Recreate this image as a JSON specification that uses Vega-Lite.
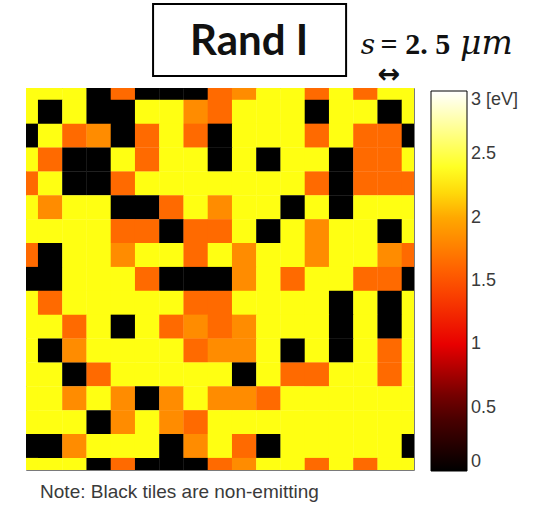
{
  "$schema": "https://vega.github.io/schema/vega-lite/v6.json",
  "autosize": {"type": "none"},
  "width": 388,
  "height": 382,
  "padding": {"left": 26, "top": 88, "right": 124, "bottom": 36},
  "background": "white",
  "view": {"stroke": "#7a7a7a", "strokeWidth": 1},
  "data": {"values": [
    {"r":0,"c":0,"v":2.35},{"r":0,"c":1,"v":2.35},{"r":0,"c":2,"v":2.35},{"r":0,"c":3,"v":0},{"r":0,"c":4,"v":1.64},{"r":0,"c":5,"v":0},{"r":0,"c":6,"v":0},{"r":0,"c":7,"v":0},{"r":0,"c":8,"v":1.64},{"r":0,"c":9,"v":1.84},{"r":0,"c":10,"v":2.35},{"r":0,"c":11,"v":2.35},{"r":0,"c":12,"v":1.64},{"r":0,"c":13,"v":2.35},{"r":0,"c":14,"v":1.64},{"r":0,"c":15,"v":2.35},{"r":0,"c":16,"v":2.35},
    {"r":1,"c":0,"v":2.35},{"r":1,"c":1,"v":0},{"r":1,"c":2,"v":2.35},{"r":1,"c":3,"v":0},{"r":1,"c":4,"v":0},{"r":1,"c":5,"v":2.35},{"r":1,"c":6,"v":2.35},{"r":1,"c":7,"v":1.84},{"r":1,"c":8,"v":1.64},{"r":1,"c":9,"v":2.35},{"r":1,"c":10,"v":2.35},{"r":1,"c":11,"v":2.35},{"r":1,"c":12,"v":0},{"r":1,"c":13,"v":2.35},{"r":1,"c":14,"v":2.35},{"r":1,"c":15,"v":0},{"r":1,"c":16,"v":2.35},
    {"r":2,"c":0,"v":0},{"r":2,"c":1,"v":2.35},{"r":2,"c":2,"v":1.64},{"r":2,"c":3,"v":1.84},{"r":2,"c":4,"v":0},{"r":2,"c":5,"v":1.64},{"r":2,"c":6,"v":2.35},{"r":2,"c":7,"v":1.64},{"r":2,"c":8,"v":0},{"r":2,"c":9,"v":2.35},{"r":2,"c":10,"v":2.35},{"r":2,"c":11,"v":2.35},{"r":2,"c":12,"v":1.64},{"r":2,"c":13,"v":2.35},{"r":2,"c":14,"v":1.64},{"r":2,"c":15,"v":1.64},{"r":2,"c":16,"v":0},
    {"r":3,"c":0,"v":2.35},{"r":3,"c":1,"v":1.64},{"r":3,"c":2,"v":0},{"r":3,"c":3,"v":0},{"r":3,"c":4,"v":2.35},{"r":3,"c":5,"v":1.64},{"r":3,"c":6,"v":2.35},{"r":3,"c":7,"v":2.35},{"r":3,"c":8,"v":0},{"r":3,"c":9,"v":2.35},{"r":3,"c":10,"v":0},{"r":3,"c":11,"v":2.35},{"r":3,"c":12,"v":2.35},{"r":3,"c":13,"v":0},{"r":3,"c":14,"v":1.64},{"r":3,"c":15,"v":1.64},{"r":3,"c":16,"v":2.35},
    {"r":4,"c":0,"v":1.64},{"r":4,"c":1,"v":2.35},{"r":4,"c":2,"v":0},{"r":4,"c":3,"v":0},{"r":4,"c":4,"v":1.64},{"r":4,"c":5,"v":2.35},{"r":4,"c":6,"v":2.35},{"r":4,"c":7,"v":2.35},{"r":4,"c":8,"v":2.35},{"r":4,"c":9,"v":2.35},{"r":4,"c":10,"v":2.35},{"r":4,"c":11,"v":2.35},{"r":4,"c":12,"v":1.64},{"r":4,"c":13,"v":0},{"r":4,"c":14,"v":1.64},{"r":4,"c":15,"v":1.64},{"r":4,"c":16,"v":1.64},
    {"r":5,"c":0,"v":2.35},{"r":5,"c":1,"v":1.84},{"r":5,"c":2,"v":2.35},{"r":5,"c":3,"v":2.35},{"r":5,"c":4,"v":0},{"r":5,"c":5,"v":0},{"r":5,"c":6,"v":1.64},{"r":5,"c":7,"v":2.35},{"r":5,"c":8,"v":1.84},{"r":5,"c":9,"v":2.35},{"r":5,"c":10,"v":2.35},{"r":5,"c":11,"v":0},{"r":5,"c":12,"v":2.35},{"r":5,"c":13,"v":0},{"r":5,"c":14,"v":2.35},{"r":5,"c":15,"v":2.35},{"r":5,"c":16,"v":2.35},
    {"r":6,"c":0,"v":2.35},{"r":6,"c":1,"v":2.35},{"r":6,"c":2,"v":2.35},{"r":6,"c":3,"v":2.35},{"r":6,"c":4,"v":1.64},{"r":6,"c":5,"v":1.64},{"r":6,"c":6,"v":0},{"r":6,"c":7,"v":1.64},{"r":6,"c":8,"v":1.64},{"r":6,"c":9,"v":2.35},{"r":6,"c":10,"v":0},{"r":6,"c":11,"v":2.35},{"r":6,"c":12,"v":1.84},{"r":6,"c":13,"v":2.35},{"r":6,"c":14,"v":2.35},{"r":6,"c":15,"v":0},{"r":6,"c":16,"v":2.35},
    {"r":7,"c":0,"v":1.64},{"r":7,"c":1,"v":0},{"r":7,"c":2,"v":2.35},{"r":7,"c":3,"v":2.35},{"r":7,"c":4,"v":1.84},{"r":7,"c":5,"v":2.35},{"r":7,"c":6,"v":2.35},{"r":7,"c":7,"v":1.64},{"r":7,"c":8,"v":2.35},{"r":7,"c":9,"v":1.84},{"r":7,"c":10,"v":2.35},{"r":7,"c":11,"v":2.35},{"r":7,"c":12,"v":1.84},{"r":7,"c":13,"v":2.35},{"r":7,"c":14,"v":2.35},{"r":7,"c":15,"v":1.84},{"r":7,"c":16,"v":1.64},
    {"r":8,"c":0,"v":0},{"r":8,"c":1,"v":0},{"r":8,"c":2,"v":2.35},{"r":8,"c":3,"v":2.35},{"r":8,"c":4,"v":2.35},{"r":8,"c":5,"v":1.64},{"r":8,"c":6,"v":0},{"r":8,"c":7,"v":0},{"r":8,"c":8,"v":0},{"r":8,"c":9,"v":1.84},{"r":8,"c":10,"v":2.35},{"r":8,"c":11,"v":1.64},{"r":8,"c":12,"v":2.35},{"r":8,"c":13,"v":2.35},{"r":8,"c":14,"v":1.64},{"r":8,"c":15,"v":1.64},{"r":8,"c":16,"v":0},
    {"r":9,"c":0,"v":2.35},{"r":9,"c":1,"v":1.64},{"r":9,"c":2,"v":2.35},{"r":9,"c":3,"v":2.35},{"r":9,"c":4,"v":2.35},{"r":9,"c":5,"v":2.35},{"r":9,"c":6,"v":2.35},{"r":9,"c":7,"v":1.64},{"r":9,"c":8,"v":1.64},{"r":9,"c":9,"v":2.35},{"r":9,"c":10,"v":2.35},{"r":9,"c":11,"v":2.35},{"r":9,"c":12,"v":2.35},{"r":9,"c":13,"v":0},{"r":9,"c":14,"v":2.35},{"r":9,"c":15,"v":0},{"r":9,"c":16,"v":2.35},
    {"r":10,"c":0,"v":2.35},{"r":10,"c":1,"v":2.35},{"r":10,"c":2,"v":1.64},{"r":10,"c":3,"v":2.35},{"r":10,"c":4,"v":0},{"r":10,"c":5,"v":2.35},{"r":10,"c":6,"v":1.64},{"r":10,"c":7,"v":1.84},{"r":10,"c":8,"v":1.64},{"r":10,"c":9,"v":1.84},{"r":10,"c":10,"v":2.35},{"r":10,"c":11,"v":2.35},{"r":10,"c":12,"v":2.35},{"r":10,"c":13,"v":0},{"r":10,"c":14,"v":2.35},{"r":10,"c":15,"v":0},{"r":10,"c":16,"v":2.35},
    {"r":11,"c":0,"v":2.35},{"r":11,"c":1,"v":0},{"r":11,"c":2,"v":1.84},{"r":11,"c":3,"v":2.35},{"r":11,"c":4,"v":2.35},{"r":11,"c":5,"v":2.35},{"r":11,"c":6,"v":2.35},{"r":11,"c":7,"v":1.64},{"r":11,"c":8,"v":1.84},{"r":11,"c":9,"v":1.84},{"r":11,"c":10,"v":2.35},{"r":11,"c":11,"v":0},{"r":11,"c":12,"v":2.35},{"r":11,"c":13,"v":0},{"r":11,"c":14,"v":2.35},{"r":11,"c":15,"v":1.64},{"r":11,"c":16,"v":2.35},
    {"r":12,"c":0,"v":2.35},{"r":12,"c":1,"v":2.35},{"r":12,"c":2,"v":0},{"r":12,"c":3,"v":1.64},{"r":12,"c":4,"v":2.35},{"r":12,"c":5,"v":2.35},{"r":12,"c":6,"v":2.35},{"r":12,"c":7,"v":2.35},{"r":12,"c":8,"v":2.35},{"r":12,"c":9,"v":0},{"r":12,"c":10,"v":2.35},{"r":12,"c":11,"v":1.64},{"r":12,"c":12,"v":1.64},{"r":12,"c":13,"v":2.35},{"r":12,"c":14,"v":2.35},{"r":12,"c":15,"v":1.64},{"r":12,"c":16,"v":2.35},
    {"r":13,"c":0,"v":2.35},{"r":13,"c":1,"v":2.35},{"r":13,"c":2,"v":1.84},{"r":13,"c":3,"v":2.35},{"r":13,"c":4,"v":1.84},{"r":13,"c":5,"v":0},{"r":13,"c":6,"v":1.84},{"r":13,"c":7,"v":2.35},{"r":13,"c":8,"v":1.84},{"r":13,"c":9,"v":1.84},{"r":13,"c":10,"v":1.64},{"r":13,"c":11,"v":2.35},{"r":13,"c":12,"v":2.35},{"r":13,"c":13,"v":2.35},{"r":13,"c":14,"v":2.35},{"r":13,"c":15,"v":2.35},{"r":13,"c":16,"v":2.35},
    {"r":14,"c":0,"v":2.35},{"r":14,"c":1,"v":2.35},{"r":14,"c":2,"v":2.35},{"r":14,"c":3,"v":0},{"r":14,"c":4,"v":1.84},{"r":14,"c":5,"v":2.35},{"r":14,"c":6,"v":1.84},{"r":14,"c":7,"v":1.64},{"r":14,"c":8,"v":2.35},{"r":14,"c":9,"v":2.35},{"r":14,"c":10,"v":2.35},{"r":14,"c":11,"v":2.35},{"r":14,"c":12,"v":2.35},{"r":14,"c":13,"v":2.35},{"r":14,"c":14,"v":2.35},{"r":14,"c":15,"v":2.35},{"r":14,"c":16,"v":2.35},
    {"r":15,"c":0,"v":0},{"r":15,"c":1,"v":0},{"r":15,"c":2,"v":1.84},{"r":15,"c":3,"v":2.35},{"r":15,"c":4,"v":2.35},{"r":15,"c":5,"v":2.35},{"r":15,"c":6,"v":0},{"r":15,"c":7,"v":1.84},{"r":15,"c":8,"v":2.35},{"r":15,"c":9,"v":1.64},{"r":15,"c":10,"v":0},{"r":15,"c":11,"v":2.35},{"r":15,"c":12,"v":2.35},{"r":15,"c":13,"v":2.35},{"r":15,"c":14,"v":2.35},{"r":15,"c":15,"v":2.35},{"r":15,"c":16,"v":0},
    {"r":16,"c":0,"v":2.35},{"r":16,"c":1,"v":2.35},{"r":16,"c":2,"v":2.35},{"r":16,"c":3,"v":0},{"r":16,"c":4,"v":1.64},{"r":16,"c":5,"v":0},{"r":16,"c":6,"v":0},{"r":16,"c":7,"v":0},{"r":16,"c":8,"v":1.64},{"r":16,"c":9,"v":1.84},{"r":16,"c":10,"v":2.35},{"r":16,"c":11,"v":2.35},{"r":16,"c":12,"v":1.64},{"r":16,"c":13,"v":2.35},{"r":16,"c":14,"v":1.64},{"r":16,"c":15,"v":2.35},{"r":16,"c":16,"v":2.35}
  ]},
  "layer": [
    {
      "mark": {"type": "rect", "width": 24.6, "height": 24.2, "clip": true},
      "encoding": {
        "x": {"field": "c", "type": "quantitative", "scale": {"domain": [0, 16], "nice": false, "zero": false}, "axis": null},
        "y": {"field": "r", "type": "quantitative", "scale": {"domain": [0, 16], "nice": false, "zero": false, "reverse": true}, "axis": null},
        "color": {
          "field": "v", "type": "quantitative",
          "scale": {"domain": [0, 0.5, 1, 1.5, 2, 2.35, 3], "range": ["#000000", "#5a0000", "#e80000", "#ff5200", "#ffa800", "#ffff12", "#ffffff"], "interpolate": "rgb"},
          "legend": {
            "orient": "none", "legendX": 405, "legendY": 3, "direction": "vertical",
            "gradientLength": 380, "gradientThickness": 36, "title": null,
            "values": [0, 0.5, 1, 1.5, 2, 2.5, 3],
            "labelExpr": "datum.value == 3 ? '3 [eV]' : '' + datum.value",
            "labelFont": "Liberation Sans", "labelFontSize": 18, "labelColor": "#3a3a3a", "labelOffset": 4,
            "gradientStrokeColor": "#000000", "gradientStrokeWidth": 1
          }
        }
      }
    },
    {
      "data": {"values": [{}]},
      "mark": {"type": "rect", "filled": false, "stroke": "#000000", "strokeWidth": 2},
      "encoding": {
        "x": {"datum": 5.24, "type": "quantitative"}, "x2": {"datum": 13.2},
        "y": {"datum": -3.52, "type": "quantitative"}, "y2": {"datum": -0.5}
      }
    },
    {
      "data": {"values": [{}]},
      "mark": {"type": "text", "text": "Rand I", "font": "Lato", "fontWeight": "bold", "fontSize": 42, "align": "center", "baseline": "middle", "color": "#111111"},
      "encoding": {"x": {"datum": 9.2, "type": "quantitative"}, "y": {"datum": -1.93, "type": "quantitative"}}
    },
    {
      "data": {"values": [{}]},
      "mark": {"type": "text", "text": "s", "font": "DejaVu Serif", "fontStyle": "italic", "fontSize": 28, "align": "left", "baseline": "alphabetic", "color": "#111111"},
      "encoding": {"x": {"datum": 13.8, "type": "quantitative"}, "y": {"datum": -1.42, "type": "quantitative"}}
    },
    {
      "data": {"values": [{}]},
      "mark": {"type": "text", "text": "= 2. 5", "font": "Liberation Serif", "fontWeight": "bold", "fontSize": 30, "align": "left", "baseline": "alphabetic", "color": "#111111"},
      "encoding": {"x": {"datum": 14.62, "type": "quantitative"}, "y": {"datum": -1.42, "type": "quantitative"}}
    },
    {
      "data": {"values": [{}]},
      "mark": {"type": "text", "text": "μm", "font": "DejaVu Serif", "fontStyle": "italic", "fontSize": 33, "align": "left", "baseline": "alphabetic", "color": "#111111"},
      "encoding": {"x": {"datum": 17.9, "type": "quantitative"}, "y": {"datum": -1.42, "type": "quantitative"}}
    },
    {
      "data": {"values": [{}]},
      "mark": {"type": "text", "text": "↔", "font": "DejaVu Sans", "fontWeight": "bold", "fontSize": 27, "align": "center", "baseline": "middle", "color": "#111111"},
      "encoding": {"x": {"datum": 14.97, "type": "quantitative"}, "y": {"datum": -0.55, "type": "quantitative"}}
    },
    {
      "data": {"values": [{}]},
      "mark": {"type": "text", "text": "Note: Black tiles are non-emitting", "font": "Liberation Sans", "fontSize": 19, "align": "left", "baseline": "middle", "color": "#3a3a3a"},
      "encoding": {"x": {"datum": 0.58, "type": "quantitative"}, "y": {"datum": 16.92, "type": "quantitative"}}
    }
  ]
}
